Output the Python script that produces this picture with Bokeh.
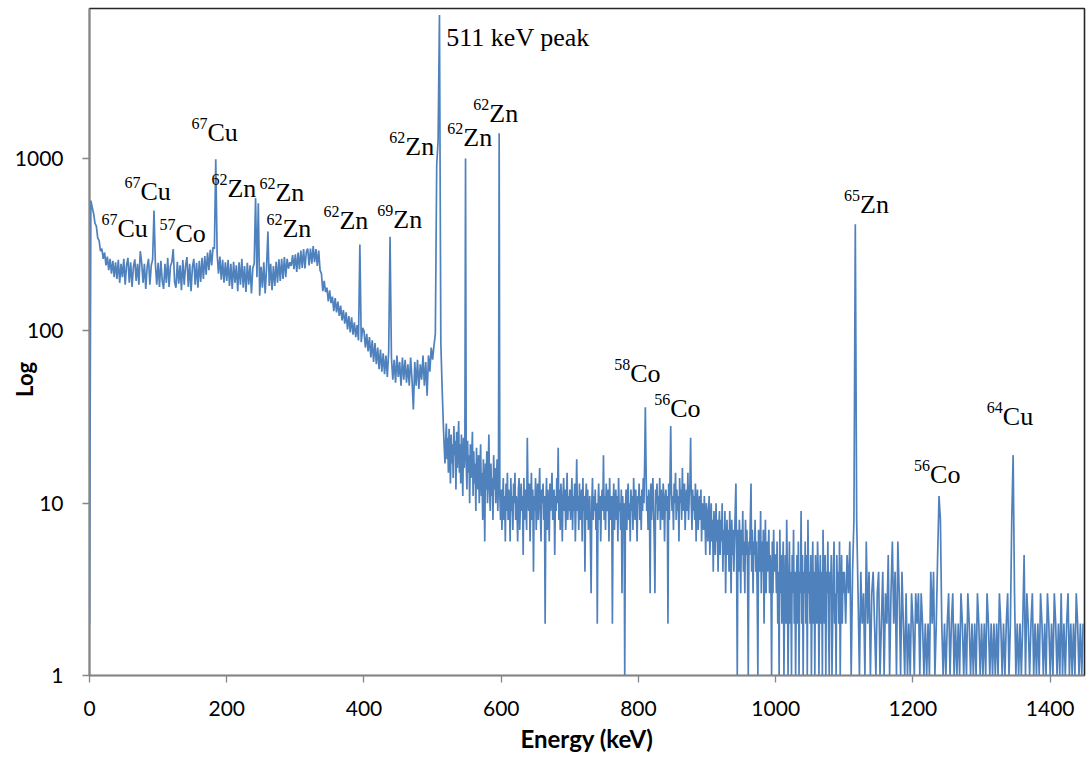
from bokeh.plotting import figure
from bokeh.models import ColumnDataSource, FixedTicker, PrintfTickFormatter, Label
from bokeh.core.properties import value
from bokeh.embed import file_html
from bokeh.resources import INLINE
import math

# ---- Spectrum: counts per channel ----
# 2 keV channels
seg_0000 = [2, 570, 520, 480, 420, 405, 345, 335, 290, 300,
            262, 285, 240, 270, 225, 262, 215, 255, 205, 250,
            200, 258, 190, 245, 205, 262, 185, 240, 265, 190,
            250, 180, 235, 260, 195, 245, 185, 290, 250, 190,
            245, 175, 235, 262, 185, 240, 260, 500, 245, 185]
seg_0100 = [248, 180, 255, 195, 175, 245, 190, 265, 180, 238,
            250, 298, 192, 178, 252, 188, 240, 172, 258, 185,
            238, 268, 180, 245, 170, 235, 262, 185, 248, 178,
            255, 192, 265, 200, 272, 212, 285, 225, 295, 240,
            305, 300, 990, 280, 215, 270, 198, 258, 190, 250]
seg_0200 = [195, 258, 182, 245, 175, 252, 190, 240, 170, 250,
            185, 262, 178, 238, 168, 248, 185, 240, 165, 232,
            245, 590, 205, 550, 160, 235, 178, 250, 165, 232,
            377, 182, 245, 172, 238, 182, 252, 190, 260, 195,
            262, 200, 268, 205, 262, 230, 250, 238, 275, 228]
seg_0300 = [278, 220, 285, 228, 292, 232, 298, 230, 288, 300,
            240, 300, 245, 310, 250, 298, 238, 292, 225, 215,
            170, 195, 168, 178, 148, 172, 145, 158, 130, 155,
            128, 148, 122, 140, 115, 132, 110, 128, 102, 122,
            98, 120, 95, 112, 92, 108, 88, 317, 86, 104]
seg_0400 = [100, 80, 96, 76, 92, 70, 88, 66, 85, 64,
            80, 60, 78, 58, 74, 56, 72, 54, 76, 352,
            70, 52, 68, 50, 72, 54, 66, 48, 70, 52,
            68, 50, 64, 48, 70, 52, 35, 66, 48, 68,
            46, 64, 52, 72, 48, 66, 42, 72, 58, 80]
seg_0500 = [68, 82, 96, 920, 1270, 6800, 85, 45, 26, 17]
# 1 keV channels
seg_0520 = [29, 18, 24, 15, 27, 20, 13, 25, 17, 22,
            14, 28, 19, 23, 12, 26, 16, 21, 30, 15,
            22, 13, 25, 18, 11, 24, 16, 20, 1000, 17,
            12, 23, 15, 19, 10, 22, 14, 18, 26, 11,
            20, 13, 17, 9, 21, 14, 12, 19, 10, 16,
            22, 11, 15, 8, 18, 13, 6, 17, 12, 20,
            10, 15, 25, 12, 9, 17, 11, 14, 8, 19,
            12, 16, 10, 13, 18, 9, 14, 1400, 11, 8]
seg_0600 = [12, 7, 10, 14, 8, 11, 6, 13, 9, 15,
            8, 12, 10, 6, 14, 9, 11, 7, 13, 10,
            15, 8, 11, 9, 6, 12, 14, 7, 10, 13,
            9, 11, 5, 14, 8, 12, 10, 7, 24, 11,
            9, 13, 6, 10, 15, 8, 12, 4, 11, 9,
            14, 7, 10, 13, 8, 11, 16, 9, 6, 12,
            10, 13, 8, 11, 2, 9, 14, 7, 12, 10,
            6, 13, 9, 11, 15, 8, 10, 12, 5, 11,
            9, 14, 10, 21, 8, 12, 7, 13, 10, 6,
            11, 14, 9, 12, 7, 10, 15, 8, 11, 9]
seg_0700 = [12, 8, 10, 14, 7, 11, 9, 13, 6, 10,
            18, 9, 11, 7, 13, 8, 10, 12, 6, 14,
            9, 11, 4, 10, 13, 8, 12, 7, 9, 11,
            6, 3, 10, 14, 8, 11, 9, 12, 7, 10,
            2, 9, 13, 8, 11, 6, 10, 12, 9, 19,
            8, 11, 7, 13, 10, 9, 12, 6, 14, 8,
            10, 11, 2, 9, 13, 7, 10, 12, 8, 11,
            6, 14, 9, 10, 7, 12, 3, 11, 8, 10,
            1, 9, 12, 7, 11, 13, 8, 10, 6, 12,
            9, 11, 7, 14, 10, 8, 12, 9, 6, 11]
seg_0800 = [10, 13, 8, 11, 7, 12, 9, 14, 10, 17,
            36, 17, 9, 11, 7, 12, 10, 3, 13, 8,
            11, 14, 9, 6, 3, 12, 10, 13, 8, 11,
            9, 14, 7, 12, 10, 8, 13, 11, 6, 10,
            12, 9, 11, 2, 13, 8, 14, 28, 12, 9,
            11, 7, 13, 10, 15, 8, 12, 9, 11, 6,
            14, 10, 12, 8, 16, 9, 11, 13, 7, 10,
            12, 9, 15, 8, 11, 13, 24, 10, 7, 12,
            9, 11, 8, 13, 6, 10, 12, 7, 9, 11,
            8, 12, 6, 10, 9, 7, 11, 8, 5, 10]
seg_0900 = [9, 6, 8, 11, 5, 7, 10, 6, 8, 4,
            9, 7, 5, 10, 6, 8, 4, 7, 9, 5,
            8, 6, 10, 4, 7, 5, 9, 3, 6, 8,
            5, 7, 4, 9, 6, 3, 8, 5, 7, 4,
            6, 9, 13, 5, 1, 7, 4, 8, 6, 3,
            7, 5, 9, 4, 6, 3, 8, 5, 7, 4,
            1, 6, 5, 8, 13, 4, 7, 3, 6, 5,
            8, 4, 6, 3, 1, 7, 5, 4, 9, 3,
            6, 4, 7, 2, 5, 8, 3, 6, 4, 5,
            7, 3, 5, 4, 1, 6, 3, 7, 4, 5]
seg_1000 = [5, 3, 6, 2, 4, 1, 7, 3, 5, 2,
            4, 6, 1, 3, 5, 2, 8, 4, 1, 3,
            6, 2, 4, 1, 5, 3, 7, 2, 4, 1,
            3, 5, 2, 6, 1, 4, 3, 9, 2, 5,
            1, 4, 3, 6, 2, 5, 1, 8, 3, 4,
            2, 5, 1, 3, 6, 2, 4, 1, 5, 3,
            2, 6, 4, 1, 3, 5, 2, 4, 1, 7,
            3, 2, 5, 1, 4, 3, 6, 2, 1, 4,
            3, 5, 1, 2, 4, 6, 2, 3, 1, 5,
            3, 4, 2, 6, 1, 3, 5, 2, 4, 3]
# 2 keV channels
seg_1100 = [4, 2, 5, 3, 6, 1, 4, 8, 415, 8,
            3, 1, 4, 2, 3, 1, 6, 2, 4, 1,
            3, 4, 2, 1, 3, 4, 1, 2, 4, 1,
            3, 2, 5, 1, 3, 6, 2, 4, 1, 6,
            3, 1, 4, 2, 1, 3, 1, 2, 1, 3]
seg_1200 = [2, 1, 3, 2, 3, 1, 3, 2, 1, 2,
            1, 2, 1, 4, 2, 4, 1, 2, 5, 11,
            8, 2, 1, 2, 1, 2, 3, 1, 2, 3,
            1, 2, 1, 2, 1, 3, 2, 1, 2, 1,
            3, 2, 1, 2, 1, 2, 1, 3, 2, 1]
seg_1300 = [2, 1, 2, 1, 3, 2, 1, 2, 1, 2,
            1, 2, 1, 3, 2, 1, 2, 1, 2, 3,
            1, 2, 8, 19, 3, 1, 2, 1, 2, 1,
            2, 5, 1, 3, 2, 1, 2, 3, 1, 2,
            1, 2, 1, 3, 2, 1, 2, 1, 3, 2]
seg_1400 = [1, 2, 1, 3, 2, 1, 2, 1, 3, 1,
            2, 1, 2, 3, 1, 2, 1, 2, 1, 3,
            2, 1, 2, 1, 2]

# (start energy keV, channel width keV, counts)
segments = [(0, 2, seg_0000), (100, 2, seg_0100), (200, 2, seg_0200),
            (300, 2, seg_0300), (400, 2, seg_0400), (500, 2, seg_0500),
            (520, 1, seg_0520), (600, 1, seg_0600), (700, 1, seg_0700),
            (800, 1, seg_0800), (900, 1, seg_0900), (1000, 1, seg_1000),
            (1100, 2, seg_1100), (1200, 2, seg_1200), (1300, 2, seg_1300),
            (1400, 2, seg_1400)]

# ---- Peak labels (isotope mass number, element, anchor energy, anchor count) ----
iso_mass = ["67", "67", "57", "67", "62", "62", "62", "62", "69", "62",
            "62", "62", "58", "56", "65", "56", "64"]
iso_elem = ["Cu", "Cu", "Co", "Cu", "Zn", "Zn", "Zn", "Zn", "Zn", "Zn",
            "Zn", "Zn", "Co", "Co", "Zn", "Co", "Cu"]
label_kev = [40.8, 74.3, 125.3, 171.9, 201.0, 270.9, 281.1, 364.2, 442.8, 460.3,
             544.8, 582.7, 788.0, 846.3, 1123.0, 1225.0, 1331.0]
label_cnt = [392, 644, 368, 1418, 671, 636, 392, 438, 443, 1175,
             1325, 1827, 56.6, 35.4, 541, 14.7, 31.9]
peak_text = "511 keV peak"
peak_text_kev = 520
peak_text_cnt = 5048

x_ticks = [0, 200, 400, 600, 800, 1000, 1200, 1400]
y_ticks = [1, 10, 100, 1000]
X_MAX = 1450
Y_MIN = 1
Y_MAX = 7424

energy, counts = [], []
for start, step, vals in segments:
    for i, c in enumerate(vals):
        energy.append(start + step * i)
        counts.append(c)

FRAME_W = 995
FRAME_H = 667
px_per_decade = FRAME_H / math.log10(Y_MAX / Y_MIN)
sup_raise = 10 ** (9.0 / px_per_decade)

p = figure(frame_width=FRAME_W, frame_height=FRAME_H,
           x_range=(0, X_MAX), y_range=(Y_MIN, Y_MAX), y_axis_type="log",
           output_backend="svg", toolbar_location=None,
           min_border_left=89, min_border_right=2, min_border_top=8, min_border_bottom=85)
p.background_fill_color = "white"
p.border_fill_color = "white"
p.outline_line_color = "#262626"
p.outline_line_width = 1.6
p.xgrid.visible = False
p.ygrid.visible = False

p.line(energy, counts, line_color="#4F81BD", line_width=1.7)

# axes
axis_gray = "#868686"
for ax in (p.xaxis[0], p.yaxis[0]):
    ax.axis_line_color = axis_gray
    ax.axis_line_width = 1.6
    ax.major_tick_line_color = axis_gray
    ax.major_tick_line_width = 1.3
    ax.major_tick_out = 7
    ax.major_tick_in = 0
    ax.minor_tick_line_color = None
    ax.major_label_text_font = "Lato"
    ax.major_label_text_font_size = "21px"
    ax.major_label_text_color = "black"

p.xaxis.ticker = FixedTicker(ticks=x_ticks)
p.xaxis.major_label_standoff = 18
p.xaxis.axis_label = "Energy (keV)"
p.xaxis.axis_label_text_font = "Lato"
p.xaxis.axis_label_text_font_size = "24px"
p.xaxis.axis_label_text_font_style = "bold"
p.xaxis.axis_label_text_color = "black"
p.xaxis.axis_label_standoff = 5

p.yaxis.ticker = FixedTicker(ticks=y_ticks, minor_ticks=[])
p.yaxis.formatter = PrintfTickFormatter(format="%d")
p.yaxis.major_label_standoff = 19
# the y title sits below the tick-label column, a little under the middle
p.yaxis.axis_label = "Log" + "\u00a0" * 14
p.yaxis.axis_label_text_font = "Lato"
p.yaxis.axis_label_text_font_size = "22px"
p.yaxis.axis_label_text_font_style = "bold"
p.yaxis.axis_label_text_color = "black"
p.yaxis.axis_label_standoff = -26

# peak labels
src = ColumnDataSource(dict(x=label_kev, y=label_cnt,
                            ys=[c * sup_raise for c in label_cnt],
                            mass=iso_mass, elem=iso_elem))
p.text(x="x", y="y", text="elem", source=src, text_font=value("Liberation Serif"),
       text_font_size="26px", text_align="left", text_baseline="alphabetic",
       text_color="black")
p.text(x="x", y="ys", text="mass", source=src, text_font=value("Liberation Serif"),
       text_font_size="16px", text_align="right", text_baseline="alphabetic",
       text_color="black")
p.add_layout(Label(x=peak_text_kev, y=peak_text_cnt, text=peak_text,
                   text_font="Liberation Serif", text_font_size="26px",
                   text_align="left", text_baseline="alphabetic", text_color="black"))

open("out.html", "w").write(file_html(p, INLINE))
